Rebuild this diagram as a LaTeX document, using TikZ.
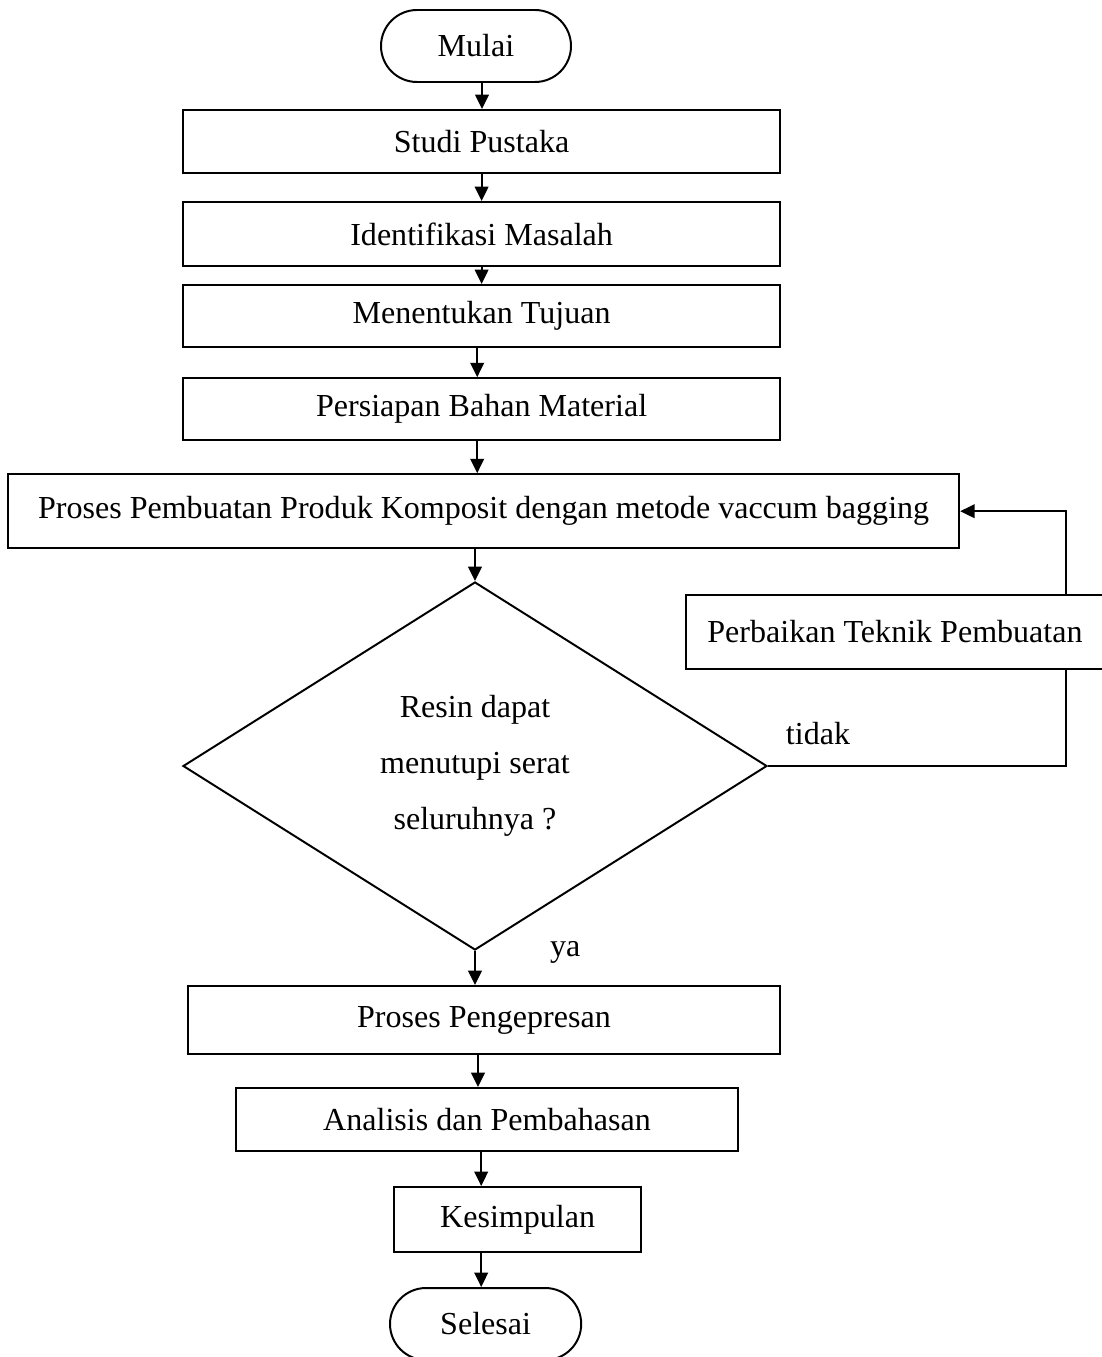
\documentclass[tikz,border=0pt]{standalone}
\usepackage{fontspec}
\setmainfont{Liberation Serif}
\usetikzlibrary{arrows.meta, positioning, shapes.geometric}

\begin{document}
\begin{tikzpicture}[
      font=\fontsize{22.8}{27}\selectfont,
      line width=1.4pt,
      kotak/.style={draw, rectangle, align=center, inner sep=0pt},
      terminal/.style={draw, rectangle, rounded corners=0.9cm, align=center,
                       minimum width=4.75cm, minimum height=1.8cm},
      keputusan/.style={draw, diamond, align=center, inner sep=0pt,
                        minimum width=14.6cm, minimum height=9.2cm},
      panah/.style={-{Triangle[length=0.36cm, width=0.34cm]}}]
    \useasboundingbox (0,0) rectangle (27.55,-33.925);
    % alur utama
    \node[terminal] (mulai) at (11.9,-1.15) {Mulai};
    \node[kotak, minimum width=14.93cm, minimum height=1.58cm] (studi) at (12.04,-3.54) {Studi Pustaka};
    \node[kotak, minimum width=14.93cm, minimum height=1.6cm] (identifikasi) at (12.04,-5.85) {Identifikasi Masalah};
    \node[kotak, minimum width=14.93cm, minimum height=1.55cm] (tujuan) at (12.04,-7.9) {Menentukan Tujuan};
    \node[kotak, minimum width=14.93cm, minimum height=1.55cm] (persiapan) at (12.04,-10.23) {Persiapan Bahan Material};
    \node[kotak, minimum width=23.78cm, minimum height=1.85cm] (proses) at (12.09,-12.78) {Proses Pembuatan Produk Komposit dengan metode vaccum bagging};
    \node[keputusan, font=\fontsize{22.8}{39.7}\selectfont] (cek) at (11.875,-19.15) {Resin dapat\\ menutupi serat\\ seluruhnya ?};
    \node[kotak, minimum width=10.45cm, minimum height=1.85cm] (perbaikan) at (22.375,-15.8) {Perbaikan Teknik Pembuatan};
    \node[kotak, minimum width=14.8cm, minimum height=1.7cm] (tekan) at (12.1,-25.5) {Proses Pengepresan};
    \node[kotak, minimum width=12.55cm, minimum height=1.58cm] (analisis) at (12.175,-27.99) {Analisis dan Pembahasan};
    \node[kotak, minimum width=6.18cm, minimum height=1.63cm] (kesimpulan) at (12.94,-30.49) {Kesimpulan};
    \node[terminal, minimum width=4.78cm] (selesai) at (12.14,-33.1) {Selesai};
    % panah
    \draw[panah] (mulai.south -| 12.05,0) -- (studi.north -| 12.05,0);
    \draw[panah] (studi.south) -- (identifikasi.north);
    \draw[panah] (identifikasi.south) -- (tujuan.north);
    \draw[panah] (tujuan.south -| 11.93,0) -- (persiapan.north -| 11.93,0);
    \draw[panah] (persiapan.south -| 11.93,0) -- (proses.north -| 11.93,0);
    \draw[panah] (proses.south -| cek.north) -- (cek.north);
    \draw[panah] (cek.south) -- (tekan.north -| cek.south);
    \draw[panah] (tekan.south -| 11.95,0) -- (analisis.north -| 11.95,0);
    \draw[panah] (analisis.south -| 12.03,0) -- (kesimpulan.north -| 12.03,0);
    \draw[panah] (kesimpulan.south -| 12.03,0) -- (selesai.north -| 12.03,0);
    % umpan balik
    \coordinate (belok) at (26.65,-19.15);
    \draw (cek.east) -- (belok) -- (belok |- perbaikan.south);
    \draw[panah] (belok |- perbaikan.north) |- (proses.east);
    \node (tidak) at (20.45,-18.33) {tidak};
    \node (ya) at (14.13,-23.8) {ya};
\end{tikzpicture}
\end{document}
